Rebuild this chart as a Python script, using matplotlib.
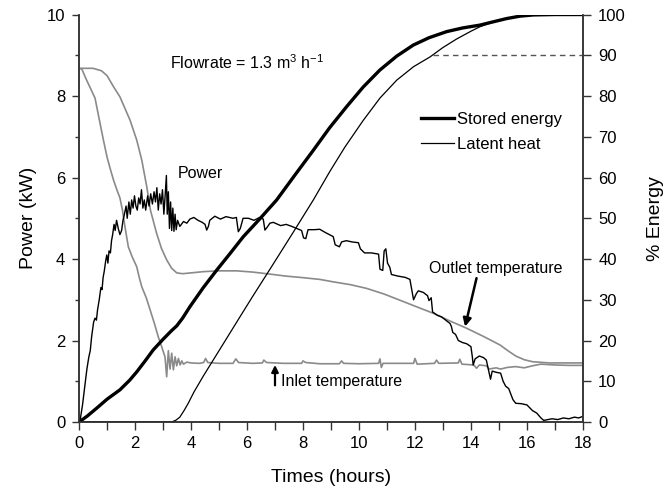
import matplotlib
matplotlib.use("Agg")
import matplotlib.pyplot as plt
from matplotlib.ticker import MultipleLocator

plt.rcParams["font.family"] = ["Liberation Sans", "DejaVu Sans"]
plt.rcParams["mathtext.fontset"] = "custom"
plt.rcParams["mathtext.rm"] = "Liberation Sans"
plt.rcParams["mathtext.it"] = "Liberation Sans:italic"

# power (kW) vs time (h)
power_t = [0.00, 0.05, 0.12, 0.20, 0.28, 0.35, 0.40, 0.45, 0.52, 0.57, 0.62, 0.66, 0.72, 0.78, 0.82,
           0.86, 0.90, 0.95, 0.99, 1.03, 1.07, 1.12, 1.16, 1.20, 1.25, 1.29, 1.34, 1.40, 1.46, 1.52,
           1.57, 1.62, 1.68, 1.72, 1.78, 1.83, 1.88, 1.93, 1.98, 2.03, 2.08, 2.13, 2.18, 2.23, 2.28,
           2.33, 2.38, 2.45, 2.50, 2.56, 2.62, 2.68, 2.73, 2.78, 2.83, 2.88, 2.93, 2.98, 3.03, 3.07,
           3.12, 3.15, 3.19, 3.23, 3.27, 3.31, 3.35, 3.39, 3.43, 3.47, 3.52, 3.60, 3.73, 3.85, 3.96,
           4.10, 4.25, 4.40, 4.50, 4.56, 4.62, 4.67, 4.85, 5.05, 5.25, 5.50, 5.62, 5.69, 5.76, 5.86,
           6.05, 6.25, 6.45, 6.58, 6.64, 6.72, 6.82, 6.94, 7.20, 7.40, 7.60, 7.77, 7.95, 8.02, 8.10,
           8.18, 8.40, 8.60, 8.80, 9.00, 9.08, 9.15, 9.30, 9.38, 9.55, 9.75, 9.98, 10.05, 10.20, 10.45,
           10.70, 10.75, 10.85, 10.90, 10.96, 11.02, 11.10, 11.16, 11.40, 11.65, 11.82, 11.90, 11.95, 12.05, 12.12,
           12.30, 12.45, 12.50, 12.58, 12.63, 12.80, 12.95, 13.10, 13.25, 13.30, 13.35, 13.45, 13.55, 13.70, 13.85,
           14.00, 14.05, 14.08, 14.15, 14.30, 14.45, 14.55, 14.62, 14.70, 14.76, 14.90, 15.06, 15.15, 15.24, 15.35,
           15.50, 15.60, 15.80, 16.00, 16.10, 16.20, 16.35, 16.50, 16.60, 16.75, 16.90, 17.10, 17.30, 17.50, 17.70,
           17.85, 18.00]
power_kw = [0.00, 0.10, 0.40, 0.85, 1.30, 1.60, 1.75, 2.10, 2.45, 2.55, 2.50, 2.75, 3.00, 3.30, 3.25,
            3.55, 3.70, 3.95, 4.10, 3.90, 4.20, 4.15, 4.45, 4.60, 4.85, 4.70, 4.95, 4.75, 4.60, 4.70,
            4.95, 5.10, 5.30, 5.00, 5.40, 5.10, 5.45, 5.25, 5.55, 5.30, 5.20, 5.50, 5.35, 5.70, 5.25,
            5.45, 5.20, 5.55, 5.30, 5.60, 5.35, 5.65, 5.40, 5.75, 5.20, 5.60, 5.35, 5.70, 5.10, 5.50,
            6.05, 5.10, 5.65, 4.75, 5.40, 4.70, 5.25, 4.68, 5.10, 4.72, 4.95, 4.80, 4.92, 4.88, 4.98,
            5.02, 4.95, 4.90, 4.85, 4.71, 4.80, 4.95, 5.05, 4.98, 5.04, 5.00, 5.02, 4.67, 4.75, 5.00,
            5.00, 4.95, 5.02, 4.98, 4.71, 4.78, 4.88, 4.90, 4.82, 4.85, 4.80, 4.75, 4.70, 4.52, 4.50,
            4.72, 4.72, 4.73, 4.65, 4.58, 4.55, 4.35, 4.30, 4.42, 4.45, 4.42, 4.40, 4.25, 4.15, 4.15,
            4.12, 3.75, 3.72, 4.20, 4.25, 3.90, 3.80, 3.62, 3.58, 3.55, 3.50, 3.20, 3.00, 3.15, 3.22,
            3.18, 3.10, 2.98, 3.05, 2.70, 2.62, 2.58, 2.50, 2.42, 2.35, 2.20, 2.15, 2.00, 1.95, 1.92,
            1.85, 1.60, 1.40, 1.55, 1.62, 1.58, 1.52, 1.30, 1.05, 1.25, 1.22, 1.20, 1.00, 0.88, 0.82,
            0.55, 0.46, 0.45, 0.42, 0.35, 0.28, 0.22, 0.10, 0.04, 0.06, 0.08, 0.06, 0.10, 0.08, 0.12,
            0.10, 0.14]

# outlet / inlet temperature traces (plotted on the power scale)
outlet_t = [0.0, 0.5, 0.8, 1.0, 1.23, 1.46, 1.82, 2.06, 2.24, 2.42, 2.55, 2.77, 2.95, 3.13, 3.30,
            3.49, 3.70, 4.00, 4.44, 5.00, 5.63, 6.20, 6.82, 7.40, 7.89, 8.60, 9.08, 9.70, 10.27, 10.90,
            11.46, 12.05, 12.65, 13.25, 13.85, 14.45, 15.04, 15.30, 15.60, 15.90, 16.20, 16.80, 17.40, 18.0]
outlet_val = [8.68, 8.68, 8.62, 8.50, 8.23, 7.98, 7.41, 6.92, 6.43, 5.77, 5.20, 4.63, 4.25, 3.98, 3.78,
              3.66, 3.64, 3.66, 3.69, 3.71, 3.71, 3.68, 3.63, 3.58, 3.55, 3.50, 3.44, 3.37, 3.28, 3.14,
              2.99, 2.83, 2.67, 2.48, 2.30, 2.10, 1.89, 1.76, 1.62, 1.53, 1.48, 1.45, 1.45, 1.45]

inlet_t = [0.0, 0.1, 0.2, 0.27, 0.4, 0.57, 0.7, 0.87, 1.0, 1.12, 1.23, 1.35, 1.46, 1.55, 1.65,
           1.76, 1.9, 2.06, 2.15, 2.24, 2.4, 2.54, 2.7, 2.83, 2.95, 3.07, 3.13, 3.19, 3.25, 3.31,
           3.37, 3.43, 3.49, 3.55, 3.61, 3.67, 3.73, 3.85, 4.0, 4.3, 4.45, 4.52, 4.6, 5.0, 5.5,
           5.6, 5.7, 6.2, 6.55, 6.6, 6.7, 7.3, 7.95, 8.0, 8.1, 8.6, 9.3, 9.38, 9.45, 10.0,
           10.7, 10.75, 10.8, 10.86, 11.5, 11.95, 12.0, 12.08, 12.7, 12.77, 12.85, 13.55, 13.6, 13.68, 14.1,
           14.2, 14.3, 14.55, 14.65, 14.9, 15.06, 15.3, 15.6, 15.9, 16.2, 16.5, 17.0, 17.5, 18.0]
inlet_val = [8.68, 8.66, 8.50, 8.39, 8.20, 7.95, 7.50, 6.92, 6.50, 6.20, 5.94, 5.70, 5.50, 5.20, 4.75,
             4.30, 4.05, 3.81, 3.55, 3.32, 3.05, 2.75, 2.40, 2.09, 1.85, 1.60, 1.11, 1.75, 1.30, 1.69,
             1.28, 1.60, 1.38, 1.56, 1.40, 1.50, 1.42, 1.47, 1.45, 1.44, 1.46, 1.56, 1.46, 1.44, 1.44,
             1.55, 1.46, 1.44, 1.45, 1.52, 1.46, 1.44, 1.44, 1.50, 1.46, 1.43, 1.43, 1.50, 1.44, 1.43,
             1.44, 1.55, 1.34, 1.44, 1.44, 1.44, 1.56, 1.42, 1.44, 1.52, 1.44, 1.45, 1.54, 1.42, 1.40,
             1.32, 1.40, 1.38, 1.30, 1.33, 1.30, 1.34, 1.36, 1.33, 1.38, 1.42, 1.40, 1.39, 1.39]

# energy curves (% of total)
stored_t = [0.0, 0.3, 0.63, 1.0, 1.46, 1.8, 2.06, 2.35, 2.65, 3.0, 3.3, 3.49, 3.7, 3.96, 4.44,
            4.92, 5.4, 5.87, 6.45, 7.06, 7.7, 8.37, 8.95, 9.56, 10.15, 10.75, 11.35, 11.94, 12.5, 13.13,
            13.7, 14.32, 14.85, 15.27, 15.75, 16.23, 17.0, 18.0]
stored_pct = [0.0, 1.5, 3.4, 5.6, 7.9, 10.2, 12.3, 14.9, 17.7, 20.3, 22.4, 23.6, 25.5, 28.3, 33.0,
              37.3, 41.4, 45.5, 49.8, 54.5, 60.5, 66.7, 72.2, 77.4, 82.2, 86.4, 89.8, 92.5, 94.3, 95.8,
              96.7, 97.4, 98.3, 99.0, 99.6, 99.9, 100.0, 100.0]

latent_t = [0.0, 3.3, 3.45, 3.6, 3.75, 3.9, 4.1, 4.44, 5.0, 5.63, 6.2, 6.82, 7.6, 8.37, 8.96,
            9.5, 10.15, 10.75, 11.35, 11.95, 12.54, 13.0, 13.49, 14.0, 14.32, 14.8, 15.3, 15.8, 16.3, 17.0,
            18.0]
latent_pct = [0.0, 0.0, 0.4, 1.2, 2.8, 4.6, 7.3, 11.3, 17.5, 24.5, 30.8, 37.5, 46.0, 54.5, 61.5,
              67.5, 74.0, 79.5, 83.9, 87.2, 89.6, 91.9, 94.0, 95.9, 97.0, 98.2, 99.1, 99.6, 99.9, 100.0,
              100.0]

# 90 % reference level, drawn from where latent heat reaches it
ref_pct = 90
ref_start_t = 12.65

fig = plt.figure(figsize=(6.7, 4.94), dpi=100)
ax = fig.add_axes([0.118, 0.1457, 0.752, 0.8249])
ax2 = ax.twinx()

grey = "#8a8a8a"
ax.plot(outlet_t, outlet_val, color=grey, lw=1.2)
ax.plot(inlet_t, inlet_val, color=grey, lw=1.2)
ax.plot(power_t, power_kw, color="black", lw=1.0)

ax2.plot(stored_t, stored_pct, color="black", lw=2.4, label="Stored energy")
ax2.plot(latent_t, latent_pct, color="black", lw=0.9, label="Latent heat")
ax2.hlines(ref_pct, ref_start_t, 18, colors="#555555", linestyles=(0, (4, 3)), lw=1.0)

ax.set_xlim(0, 18)
ax.set_ylim(0, 10)
ax2.set_ylim(0, 100)

ax.xaxis.set_major_locator(MultipleLocator(2))
ax.xaxis.set_minor_locator(MultipleLocator(1))
ax.yaxis.set_major_locator(MultipleLocator(2))
ax.yaxis.set_minor_locator(MultipleLocator(1))
ax2.yaxis.set_major_locator(MultipleLocator(10))

spine_c = "#333333"
for a in (ax, ax2):
    a.spines["top"].set_visible(False)
    for s in ("left", "right", "bottom"):
        a.spines[s].set_color(spine_c)
        a.spines[s].set_linewidth(1.1)

ax.tick_params(axis="x", which="both", direction="out", length=6, width=1, color=spine_c,
               labelsize=12, pad=4)
ax.tick_params(axis="y", which="major", direction="out", length=5, width=1, color=spine_c,
               labelsize=12, pad=5)
ax.tick_params(axis="y", which="minor", direction="out", length=3, width=1, color=spine_c)
ax2.tick_params(axis="y", which="major", direction="out", length=6, width=1, color=spine_c,
                labelsize=12, pad=5)

ax.set_xlabel("Times (hours)", fontsize=14, labelpad=13)
ax.set_ylabel("Power (kW)", fontsize=14, labelpad=7)
ax2.set_ylabel("% Energy", fontsize=14, labelpad=15)

ax.text(3.25, 8.81, "Flowrate = 1.3 m$^3$ h$^{-1}$", fontsize=11.5, va="center", ha="left")
ax.text(3.51, 6.1, "Power", fontsize=11.5, va="center", ha="left")
ax.text(14.9, 3.77, "Outlet temperature", fontsize=11.5, ha="center", va="center")
ax.annotate("", xy=(13.79, 2.34), xytext=(14.2, 3.53),
            arrowprops=dict(arrowstyle="-|>", color="black", lw=1.8, mutation_scale=12,
                            shrinkA=0, shrinkB=0))
ax.annotate("", xy=(7.0, 1.4), xytext=(7.0, 0.9),
            arrowprops=dict(arrowstyle="-|>", color="black", lw=1.6, mutation_scale=10,
                            shrinkA=0, shrinkB=0))
ax.text(7.2, 0.99, "Inlet temperature", fontsize=11.5, va="center", ha="left")

ax2.legend(loc="upper left", bbox_to_anchor=(0.665, 0.778), frameon=False, fontsize=12,
           handlelength=2.0, handletextpad=0.2, labelspacing=0.6, borderaxespad=0)

fig.savefig("out.png", dpi=100)
